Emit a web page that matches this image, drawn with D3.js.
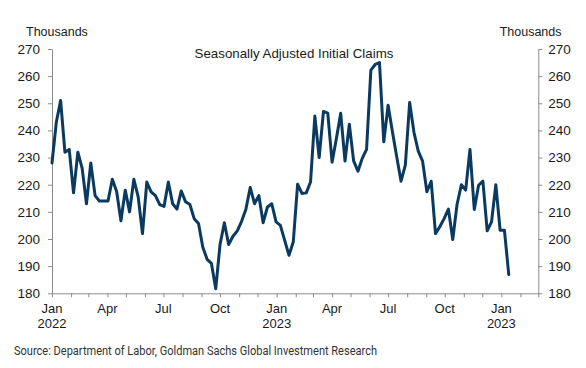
<!DOCTYPE html>
<html>
<head>
<meta charset="utf-8">
<script src="https://cdn.jsdelivr.net/npm/d3@7"></script>
<style>
  html, body { margin: 0; padding: 0; background: #fff; }
  svg { display: block; }
</style>
</head>
<body>
<svg id="chart" width="586" height="368"></svg>
<script>
// ---- Data (thousands, seasonally adjusted initial claims, weekly) ----
const firstWeek = "2022-01-01";
const claims = [
  228, 243, 251, 232, 233, 217, 232, 226, 213, 228,
  216, 214, 214, 214, 222, 217.5, 206.7, 218, 210, 222,
  215.5, 202, 221, 217.4, 216, 212.7, 212, 221, 213, 211,
  217.7, 213.7, 212.7, 207.5, 205.7, 197, 192.5, 191, 181.7, 198,
  206, 198, 201, 203, 206.5, 211, 219, 213, 216, 206,
  211.8, 213, 206.3, 205, 199.5, 194, 199, 220.2, 216.8, 217,
  221, 245.3, 230, 247, 246.4, 228.3, 237, 246.3, 228.7, 242.3,
  228.8, 225, 229.7, 233, 262.2, 264.3, 265, 235.8, 249.3, 239.5,
  230.3, 221.3, 227.2, 250.3, 239.3, 232.4, 228.7, 217.4, 221.3, 202,
  204.5, 207.5, 211, 199.8, 212.7, 220, 218, 233, 210.9, 219.8,
  221.3, 203, 206.3, 220, 203.2, 203.2, 186.9
];
const yTicks = [180, 190, 200, 210, 220, 230, 240, 250, 260, 270];
const monthLabels = [
  { date: "2022-01-01", l1: "Jan", l2: "2022" },
  { date: "2022-04-01", l1: "Apr", l2: "" },
  { date: "2022-07-01", l1: "Jul", l2: "" },
  { date: "2022-10-01", l1: "Oct", l2: "" },
  { date: "2023-01-01", l1: "Jan", l2: "2023" },
  { date: "2023-04-01", l1: "Apr", l2: "" },
  { date: "2023-07-01", l1: "Jul", l2: "" },
  { date: "2023-10-01", l1: "Oct", l2: "" },
  { date: "2024-01-01", l1: "Jan", l2: "2023" }
];
const xDomain = ["2022-01-01", "2024-03-01"];
const titleText = "Seasonally Adjusted Initial Claims";
const unitText = "Thousands";
const sourceText = "Source: Department of Labor, Goldman Sachs Global Investment Research";

// ---- Build ----
const parse = d3.utcParse("%Y-%m-%d");
const start = parse(firstWeek);
const data = claims.map((v, i) => ({ date: d3.utcDay.offset(start, i * 7), value: v }));

const svg = d3.select("#chart");
const L = 52, R = 538.3, T = 49, B = 293.3;
const axisColor = "#8c8c8c";
const textColor = "#1a1a1a";
const lineColor = "#0b3a60";
const font = "'Liberation Sans', Arial, sans-serif";

const x = d3.scaleUtc().domain(xDomain.map(parse)).range([L, R]);
const y = d3.scaleLinear().domain([180, 270]).range([B, T]);

// Left axis
const gl = svg.append("g").attr("transform", `translate(${L},0)`)
  .call(d3.axisLeft(y).tickValues(yTicks).tickSize(4).tickPadding(8).tickSizeOuter(0));
// Right axis
const gr = svg.append("g").attr("transform", `translate(${R},0)`)
  .call(d3.axisRight(y).tickValues(yTicks).tickSize(4).tickPadding(6).tickSizeOuter(0));
// Bottom axis (monthly ticks, no labels)
const gb = svg.append("g").attr("transform", `translate(0,${B})`)
  .call(d3.axisBottom(x).ticks(d3.utcMonth.every(1)).tickSize(4).tickFormat("").tickSizeOuter(0));

[gl, gr, gb].forEach(g => {
  g.selectAll("path.domain").attr("stroke", axisColor).attr("stroke-width", 1);
  g.selectAll(".tick line").attr("stroke", axisColor).attr("stroke-width", 1);
  g.selectAll(".tick text").attr("fill", textColor)
    .style("font-family", font).style("font-size", "13.5px");
});

// Month labels
const ml = svg.append("g").style("font-family", font).style("font-size", "13px").attr("fill", textColor);
monthLabels.forEach(m => {
  const xx = x(parse(m.date));
  ml.append("text").attr("x", xx).attr("y", 313).attr("text-anchor", "middle").text(m.l1);
  if (m.l2) ml.append("text").attr("x", xx).attr("y", 327.5).attr("text-anchor", "middle").text(m.l2);
});

// Line
const line = d3.line().x(d => x(d.date)).y(d => y(d.value)).curve(d3.curveLinear);
svg.append("path").datum(data)
  .attr("d", line)
  .attr("fill", "none")
  .attr("stroke", lineColor)
  .attr("stroke-width", 3)
  .attr("stroke-linejoin", "round")
  .attr("stroke-linecap", "round");

// Unit labels
svg.append("text").attr("x", 26).attr("y", 36).text(unitText)
  .style("font-family", font).style("font-size", "12.5px").attr("fill", textColor);
svg.append("text").attr("x", 561.5).attr("y", 36).attr("text-anchor", "end").text(unitText)
  .style("font-family", font).style("font-size", "12.5px").attr("fill", textColor);

// Title
svg.append("text").attr("x", 294).attr("y", 58).attr("text-anchor", "middle").text(titleText)
  .style("font-family", font).style("font-size", "13.3px").attr("fill", textColor);

// Source
svg.append("text").attr("x", 14).attr("y", 355).text(sourceText)
  .attr("textLength", 363).attr("lengthAdjust", "spacingAndGlyphs")
  .style("font-family", "'Liberation Sans Narrow', 'Roboto', sans-serif").style("font-size", "13px")
  .attr("fill", "#333");
</script>
</body>
</html>
